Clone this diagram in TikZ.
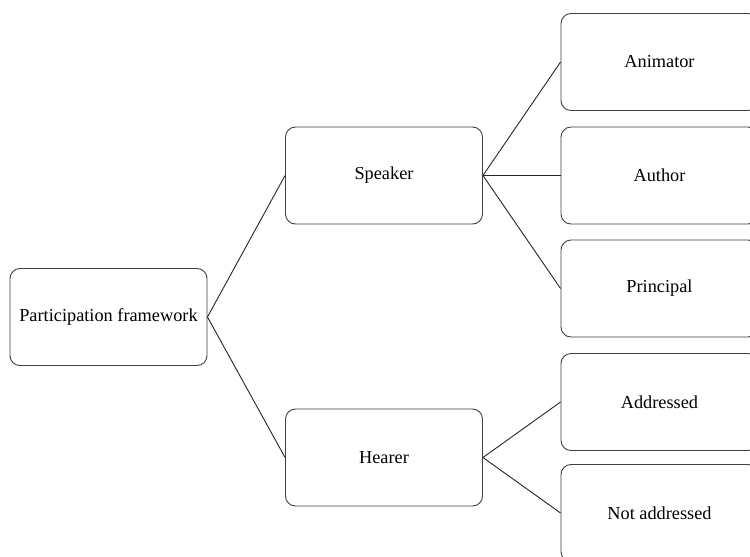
\documentclass[tikz,border=0pt]{standalone}
\usepackage{fontspec}
\setmainfont{Liberation Serif}
\begin{document}
\begin{tikzpicture}[x=1pt,y=-1pt,
  box/.style={draw=black!75,line width=0.9pt,rounded corners=10pt,minimum width=197pt,minimum height=97pt,inner sep=0pt,font=\fontsize{18.3}{21}\selectfont},
  link/.style={draw=black!85,line width=0.9pt}]
\useasboundingbox (0,0) rectangle (750,557);
\clip (0,0) rectangle (750,557);
\fill[white] (0,0) rectangle (750,557);
\node[box] (pf) at (108.5,317) {Participation framework};
\node[box] (sp) at (384,175.5) {Speaker};
\node[box] (he) at (384,457.5) {Hearer};
\node[box] (an) at (659.5,62) {Animator};
\node[box] (au) at (659.5,175.5) {Author};
\node[box] (pr) at (659.5,288.5) {Principal};
\node[box] (ad) at (659.5,402) {Addressed};
\node[box] (na) at (659.5,513) {Not addressed};
\draw[link] (pf.east) -- (sp.west);
\draw[link] (pf.east) -- (he.west);
\draw[link] (sp.east) -- (an.west);
\draw[link] (sp.east) -- (au.west);
\draw[link] (sp.east) -- (pr.west);
\draw[link] (he.east) -- (ad.west);
\draw[link] (he.east) -- (na.west);
\end{tikzpicture}
\end{document}
